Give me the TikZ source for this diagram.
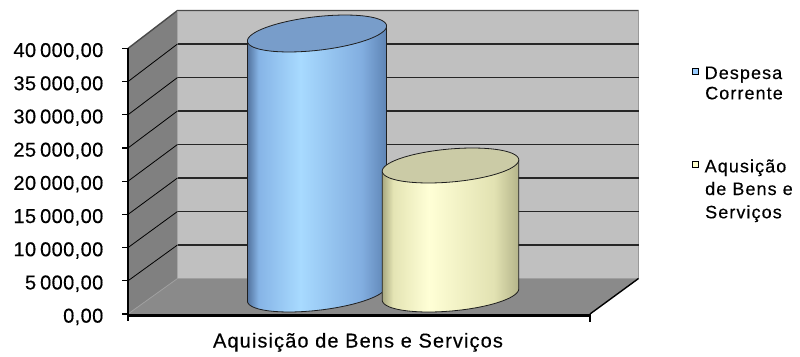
\documentclass[tikz,border=0pt]{standalone}
\usepackage{fontspec}
\setmainfont{Liberation Sans}
\newfontfamily\tickfont[LetterSpace=2,FakeBold=0.35]{Liberation Sans}
\newfontfamily\catfont[LetterSpace=5.5,FakeBold=0.35]{Liberation Sans}
\newfontfamily\legfont[LetterSpace=6,FakeBold=0.35]{Liberation Sans}
\definecolor{backwall}{HTML}{C0C0C0}
\definecolor{sidewall}{HTML}{808080}
\definecolor{floorc}{HTML}{8A8A8A}
\definecolor{gridc}{HTML}{262626}
\definecolor{edgec}{HTML}{4A4A4A}
\definecolor{cyledge}{HTML}{1E1E1E}
\definecolor{blA}{HTML}{53739E}
\definecolor{blB}{HTML}{86B4E6}
\definecolor{blC}{HTML}{A8DAFF}
\definecolor{blD}{HTML}{82AEE0}
\definecolor{blE}{HTML}{5E84B4}
\definecolor{bltop}{HTML}{789DCA}
\definecolor{yeA}{HTML}{A8A880}
\definecolor{yeB}{HTML}{E4E4B4}
\definecolor{yeC}{HTML}{FFFFD6}
\definecolor{yeD}{HTML}{E2E2B2}
\definecolor{yeE}{HTML}{B4B48A}
\definecolor{yetop}{HTML}{CBCBA6}
\definecolor{legblue}{HTML}{99CCFF}
\definecolor{legyellow}{HTML}{FFFFCC}
\pgfdeclarehorizontalshading{cylblue}{100bp}{color(0bp)=(blA); color(25bp)=(blA); color(29bp)=(blB); color(44bp)=(blC); color(66bp)=(blD); color(75bp)=(blE); color(100bp)=(blE)}
\pgfdeclarehorizontalshading{cylyellow}{100bp}{color(0bp)=(yeA); color(25bp)=(yeA); color(29bp)=(yeB); color(42bp)=(yeC); color(66bp)=(yeD); color(75bp)=(yeE); color(100bp)=(yeE)}
\tikzset{
  gridline/.style={draw=gridc, line width=1.1pt},
  sidegrid/.style={draw=black, line width=0.8pt},
  axisline/.style={draw=black, line width=1.2pt},
  ticklab/.style={anchor=base east, inner sep=0pt, font=\tickfont\fontsize{20}{20}\selectfont},
  leglab/.style={anchor=base west, inner sep=0pt, font=\legfont\fontsize{18}{18}\selectfont},
  legbox/.style={draw=black, line width=0.7pt},
}
% cylinder: #1 cx, #2 top cy, #3 bottom cy, #4 a, #5 b, #6 theta, #7 shading, #8 top colour
\newcommand\mycylinder[8]{%
  \def\ccx{#1}\def\cta{#2}\def\cbo{#3}\def\caa{#4}\def\cbb{#5}\def\cth{#6}%
  \shade[shading=#7]
    ({\ccx-\caa*cos(\cth)}, {\cta+\caa*sin(\cth)})
    -- plot[domain=180:0, samples=60, variable=\t]
       ({\ccx+\caa*cos(\t)*cos(\cth)+\cbb*sin(\t)*sin(\cth)}, {\cbo-\caa*cos(\t)*sin(\cth)+\cbb*sin(\t)*cos(\cth)})
    -- ({\ccx+\caa*cos(\cth)}, {\cta-\caa*sin(\cth)}) -- cycle;
  \draw[draw=cyledge, line width=0.8pt]
    ({\ccx-\caa*cos(\cth)}, {\cta+\caa*sin(\cth)})
    -- plot[domain=180:0, samples=60, variable=\t]
       ({\ccx+\caa*cos(\t)*cos(\cth)+\cbb*sin(\t)*sin(\cth)}, {\cbo-\caa*cos(\t)*sin(\cth)+\cbb*sin(\t)*cos(\cth)})
    -- ({\ccx+\caa*cos(\cth)}, {\cta-\caa*sin(\cth)});
  \filldraw[fill=#8, draw=cyledge, line width=0.8pt]
    plot[domain=0:360, samples=100, variable=\t]
       ({\ccx+\caa*cos(\t)*cos(\cth)+\cbb*sin(\t)*sin(\cth)}, {\cta-\caa*cos(\t)*sin(\cth)+\cbb*sin(\t)*cos(\cth)}) -- cycle;
}
\begin{document}
\begin{tikzpicture}[x=1pt,y=-1pt]
\useasboundingbox[fill=white] (0,0) rectangle (800,356);
% walls and floor
\fill[backwall] (177.5,10.5) rectangle (638.5,278.5);
\fill[sidewall] (128,48.4) -- (177.5,10.5) -- (177.5,278.5) -- (128,314) -- cycle;
\fill[floorc] (128,314) -- (177.5,278.5) -- (638.5,278.5) -- (590,314) -- cycle;
\draw[draw=edgec, line width=1.4pt] (128,48.4) -- (177.5,10.5) -- (638.5,10.5);
\draw[draw=gray!80, line width=1.6pt] (638.5,10.5) -- (638.5,278.5);
\draw[draw=gray!70, line width=1pt] (177.5,10.5) -- (177.5,278.5);
\draw[draw=gray!75, line width=0.8pt] (128,314) -- (177.5,278.5) -- (638.5,278.5);
% gridlines
\foreach \k in {1,...,7} {
  \draw[gridline] (177.5,{278.5-\k*33.5}) -- (638.5,{278.5-\k*33.5});
  \draw[sidegrid] (128,{314-\k*33.2}) -- (177.5,{278.5-\k*33.5});
}
% value axis
\draw[axisline] (128,48.4) -- (128,314);
\foreach \k/\lab in {0/{0,00},1/{5\kern4pt000,00},2/{10\kern4pt000,00},3/{15\kern4pt000,00},4/{20\kern4pt000,00},5/{25\kern4pt000,00},6/{30\kern4pt000,00},7/{35\kern4pt000,00},8/{40\kern4pt000,00}} {
  \draw[axisline] (122,{314-\k*33.2}) -- (128,{314-\k*33.2});
  \node[ticklab] (lab\k) at (103.5,{314-\k*33.2+8.6}) {\lab};
}
% cylinders
\mycylinder{317}{33.5}{293.5}{70}{16.8}{6.5}{cylblue}{bltop}
\mycylinder{450.5}{165.5}{294.5}{68.5}{16.5}{5}{cylyellow}{yetop}
% category axis
\draw[draw=black, line width=3pt] (128,315) -- (590,315);
\draw[axisline] (128,314) -- (128,321);
\draw[axisline] (590,314) -- (590,322);
\draw[draw=black, line width=1.4pt] (590,314) -- (638.5,278.5);
\node[anchor=base, inner sep=0pt, font=\catfont\fontsize{20}{20}\selectfont] (cat) at (358,347.5) {Aquisição de Bens e Serviços};
% legend
\filldraw[legbox, fill=legblue] (692,68.3) rectangle (698.3,74.3);
\node[leglab] (leg1a) at (704.5,79) {Despesa};
\node[leglab] (leg1b) at (705,99.3) {Corrente};
\filldraw[legbox, fill=legyellow] (692,161.7) rectangle (698.3,167.7);
\node[leglab] (leg2a) at (704.5,172.3) {Aqusição};
\node[leglab] (leg2b) at (705,195) {de Bens e};
\node[leglab] (leg2c) at (705,218.3) {Serviços};
\end{tikzpicture}
\end{document}
